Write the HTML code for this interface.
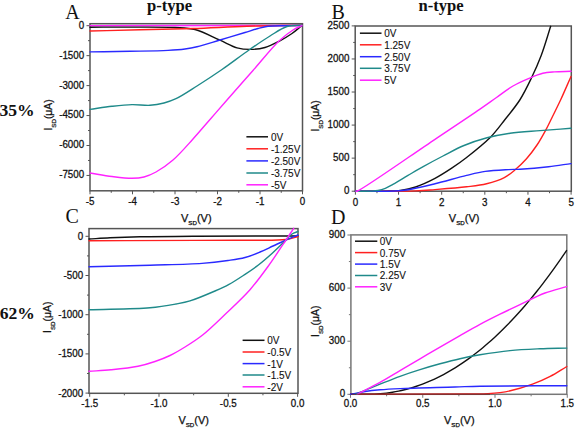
<!DOCTYPE html>
<html><head><meta charset="utf-8"><style>
html,body{margin:0;padding:0;background:#fff;width:575px;height:429px;overflow:hidden}
svg{display:block}
text{font-family:"Liberation Sans",sans-serif;fill:#111}
.tk,.al{stroke:#111;stroke-width:0.25px}
.lg{stroke:#111;stroke-width:0.1px}
.tk{font-size:9.8px}
.lg{font-size:10px}
.al{font-size:11px}
.sub{font-size:6.2px}
.yl{font-size:10.4px}
.pl{font-family:"Liberation Serif",serif;font-size:20px}
.tt{font-family:"Liberation Serif",serif;font-size:16.6px;font-weight:bold}
.pc{font-family:"Liberation Serif",serif;font-size:17.6px;font-weight:bold}
</style></head><body>
<svg width="575" height="429" viewBox="0 0 575 429">
<rect width="575" height="429" fill="#fff"/>
<rect x="90" y="23.7" width="212.5" height="167.10000000000002" fill="none" stroke="#555555" stroke-width="1.5"/>
<line x1="86.5" y1="25.70" x2="90" y2="25.70" stroke="#555555" stroke-width="1"/>
<line x1="86.5" y1="55.65" x2="90" y2="55.65" stroke="#555555" stroke-width="1"/>
<line x1="86.5" y1="85.60" x2="90" y2="85.60" stroke="#555555" stroke-width="1"/>
<line x1="86.5" y1="115.55" x2="90" y2="115.55" stroke="#555555" stroke-width="1"/>
<line x1="86.5" y1="145.50" x2="90" y2="145.50" stroke="#555555" stroke-width="1"/>
<line x1="86.5" y1="175.45" x2="90" y2="175.45" stroke="#555555" stroke-width="1"/>
<line x1="88" y1="40.67" x2="90" y2="40.67" stroke="#555555" stroke-width="1"/>
<line x1="88" y1="70.62" x2="90" y2="70.62" stroke="#555555" stroke-width="1"/>
<line x1="88" y1="100.58" x2="90" y2="100.58" stroke="#555555" stroke-width="1"/>
<line x1="88" y1="130.53" x2="90" y2="130.53" stroke="#555555" stroke-width="1"/>
<line x1="88" y1="160.47" x2="90" y2="160.47" stroke="#555555" stroke-width="1"/>
<line x1="90.00" y1="190.8" x2="90.00" y2="194.3" stroke="#555555" stroke-width="1"/>
<line x1="132.50" y1="190.8" x2="132.50" y2="194.3" stroke="#555555" stroke-width="1"/>
<line x1="175.00" y1="190.8" x2="175.00" y2="194.3" stroke="#555555" stroke-width="1"/>
<line x1="217.50" y1="190.8" x2="217.50" y2="194.3" stroke="#555555" stroke-width="1"/>
<line x1="260.00" y1="190.8" x2="260.00" y2="194.3" stroke="#555555" stroke-width="1"/>
<line x1="302.50" y1="190.8" x2="302.50" y2="194.3" stroke="#555555" stroke-width="1"/>
<line x1="111.25" y1="190.8" x2="111.25" y2="192.8" stroke="#555555" stroke-width="1"/>
<line x1="153.75" y1="190.8" x2="153.75" y2="192.8" stroke="#555555" stroke-width="1"/>
<line x1="196.25" y1="190.8" x2="196.25" y2="192.8" stroke="#555555" stroke-width="1"/>
<line x1="238.75" y1="190.8" x2="238.75" y2="192.8" stroke="#555555" stroke-width="1"/>
<line x1="281.25" y1="190.8" x2="281.25" y2="192.8" stroke="#555555" stroke-width="1"/>
<text class="tk" transform="translate(84.20,28.60) scale(1,1.12)" text-anchor="end">0</text>
<text class="tk" transform="translate(84.20,58.55) scale(1,1.12)" text-anchor="end">-1500</text>
<text class="tk" transform="translate(84.20,88.50) scale(1,1.12)" text-anchor="end">-3000</text>
<text class="tk" transform="translate(84.20,118.45) scale(1,1.12)" text-anchor="end">-4500</text>
<text class="tk" transform="translate(84.20,148.40) scale(1,1.12)" text-anchor="end">-6000</text>
<text class="tk" transform="translate(84.20,178.35) scale(1,1.12)" text-anchor="end">-7500</text>
<text class="tk" transform="translate(90.00,204.80) scale(1,1.12)" text-anchor="middle">-5</text>
<text class="tk" transform="translate(132.50,204.80) scale(1,1.12)" text-anchor="middle">-4</text>
<text class="tk" transform="translate(175.00,204.80) scale(1,1.12)" text-anchor="middle">-3</text>
<text class="tk" transform="translate(217.50,204.80) scale(1,1.12)" text-anchor="middle">-2</text>
<text class="tk" transform="translate(260.00,204.80) scale(1,1.12)" text-anchor="middle">-1</text>
<text class="tk" transform="translate(302.50,204.80) scale(1,1.12)" text-anchor="middle">0</text>
<path d="M90.00,25.70 L302.00,25.50" fill="none" stroke="#ff22ff" stroke-width="1.4" stroke-linejoin="round" stroke-linecap="round"/>
<path d="M90.00,27.20 C103.33,27.17 116.27,27.06 130.00,27.10 C144.56,27.15 163.01,26.85 175.00,27.50 C183.01,27.94 188.10,27.72 195.00,29.50 C203.02,31.57 212.48,36.91 220.00,40.20 C226.22,42.92 231.54,46.30 237.00,47.80 C241.68,49.09 246.00,49.43 250.60,49.40 C255.33,49.37 260.33,48.81 265.00,47.50 C269.80,46.15 274.49,43.64 279.00,41.30 C283.49,38.97 288.03,36.26 292.00,33.50 C295.64,30.97 298.67,28.17 302.00,25.50" fill="none" stroke="#111111" stroke-width="1.4" stroke-linejoin="round" stroke-linecap="round"/>
<path d="M90.00,31.00 C106.67,30.60 123.09,30.21 140.00,29.80 C157.41,29.38 175.25,29.08 193.00,28.50 C210.92,27.92 228.91,26.85 247.00,26.30 C265.25,25.75 283.67,25.57 302.00,25.20" fill="none" stroke="#ff2020" stroke-width="1.4" stroke-linejoin="round" stroke-linecap="round"/>
<path d="M90.00,51.90 C103.33,51.70 116.84,51.55 130.00,51.30 C142.83,51.05 157.85,50.94 168.00,50.40 C174.80,50.04 179.84,49.68 185.00,49.00 C189.36,48.42 192.39,47.90 197.00,46.80 C203.47,45.26 212.18,42.33 220.00,40.00 C228.16,37.57 238.02,34.62 245.00,32.50 C250.04,30.97 253.93,29.57 258.00,28.50 C261.53,27.57 264.20,26.78 268.00,26.30 C272.90,25.68 279.33,25.83 285.00,25.70 C290.67,25.57 296.33,25.57 302.00,25.50" fill="none" stroke="#2a2aff" stroke-width="1.4" stroke-linejoin="round" stroke-linecap="round"/>
<path d="M90.00,109.40 C97.33,108.37 104.83,107.11 112.00,106.30 C118.81,105.53 125.50,104.75 132.00,104.60 C138.15,104.46 144.39,105.65 150.00,105.30 C154.98,104.99 159.56,104.15 164.00,103.00 C168.21,101.91 171.56,100.81 176.00,98.70 C182.16,95.77 189.74,90.59 197.00,86.00 C205.02,80.93 213.57,75.32 222.00,69.50 C230.89,63.36 240.51,55.89 249.00,50.00 C256.39,44.87 263.29,40.10 270.00,36.00 C275.89,32.40 281.32,28.24 287.00,26.50 C291.99,24.97 297.00,25.63 302.00,25.20" fill="none" stroke="#1f8a8a" stroke-width="1.4" stroke-linejoin="round" stroke-linecap="round"/>
<path d="M90.00,173.00 C97.33,174.17 104.83,175.61 112.00,176.50 C118.81,177.35 126.18,178.35 132.00,178.30 C136.51,178.26 140.07,178.01 144.00,177.00 C148.08,175.95 151.79,174.33 156.00,172.00 C161.33,169.06 167.34,164.88 173.00,160.00 C179.68,154.23 186.68,145.94 193.00,139.00 C198.97,132.45 204.33,126.00 210.00,119.50 C215.67,113.00 220.72,107.16 227.00,100.00 C234.74,91.17 244.33,80.33 253.00,70.50 C261.67,60.67 271.37,48.21 279.00,41.00 C284.14,36.15 288.71,32.66 293.00,30.00 C296.21,28.01 299.00,27.13 302.00,25.70" fill="none" stroke="#ff22ff" stroke-width="1.4" stroke-linejoin="round" stroke-linecap="round"/>
<line x1="246.4" y1="136.8" x2="268" y2="136.8" stroke="#111111" stroke-width="1.5"/>
<text class="lg" transform="translate(270.9,140.70) scale(1,1.1)">0V</text>
<line x1="246.4" y1="148.8" x2="268" y2="148.8" stroke="#ff2020" stroke-width="1.5"/>
<text class="lg" transform="translate(270.9,152.70) scale(1,1.1)">-1.25V</text>
<line x1="246.4" y1="160.9" x2="268" y2="160.9" stroke="#2a2aff" stroke-width="1.5"/>
<text class="lg" transform="translate(270.9,164.80) scale(1,1.1)">-2.50V</text>
<line x1="246.4" y1="173" x2="268" y2="173" stroke="#1f8a8a" stroke-width="1.5"/>
<text class="lg" transform="translate(270.9,176.90) scale(1,1.1)">-3.75V</text>
<line x1="246.4" y1="184.8" x2="268" y2="184.8" stroke="#ff22ff" stroke-width="1.5"/>
<text class="lg" transform="translate(270.9,188.70) scale(1,1.1)">-5V</text>
<rect x="355.2" y="26" width="216.09999999999997" height="165.2" fill="none" stroke="#555555" stroke-width="1.5"/>
<line x1="351.7" y1="191.20" x2="355.2" y2="191.20" stroke="#555555" stroke-width="1"/>
<line x1="351.7" y1="158.14" x2="355.2" y2="158.14" stroke="#555555" stroke-width="1"/>
<line x1="351.7" y1="125.08" x2="355.2" y2="125.08" stroke="#555555" stroke-width="1"/>
<line x1="351.7" y1="92.02" x2="355.2" y2="92.02" stroke="#555555" stroke-width="1"/>
<line x1="351.7" y1="58.96" x2="355.2" y2="58.96" stroke="#555555" stroke-width="1"/>
<line x1="351.7" y1="25.90" x2="355.2" y2="25.90" stroke="#555555" stroke-width="1"/>
<line x1="353.2" y1="174.67" x2="355.2" y2="174.67" stroke="#555555" stroke-width="1"/>
<line x1="353.2" y1="141.61" x2="355.2" y2="141.61" stroke="#555555" stroke-width="1"/>
<line x1="353.2" y1="108.55" x2="355.2" y2="108.55" stroke="#555555" stroke-width="1"/>
<line x1="353.2" y1="75.49" x2="355.2" y2="75.49" stroke="#555555" stroke-width="1"/>
<line x1="353.2" y1="42.43" x2="355.2" y2="42.43" stroke="#555555" stroke-width="1"/>
<line x1="355.40" y1="191.2" x2="355.40" y2="194.7" stroke="#555555" stroke-width="1"/>
<line x1="398.54" y1="191.2" x2="398.54" y2="194.7" stroke="#555555" stroke-width="1"/>
<line x1="441.68" y1="191.2" x2="441.68" y2="194.7" stroke="#555555" stroke-width="1"/>
<line x1="484.82" y1="191.2" x2="484.82" y2="194.7" stroke="#555555" stroke-width="1"/>
<line x1="527.96" y1="191.2" x2="527.96" y2="194.7" stroke="#555555" stroke-width="1"/>
<line x1="571.10" y1="191.2" x2="571.10" y2="194.7" stroke="#555555" stroke-width="1"/>
<line x1="376.97" y1="191.2" x2="376.97" y2="193.2" stroke="#555555" stroke-width="1"/>
<line x1="420.11" y1="191.2" x2="420.11" y2="193.2" stroke="#555555" stroke-width="1"/>
<line x1="463.25" y1="191.2" x2="463.25" y2="193.2" stroke="#555555" stroke-width="1"/>
<line x1="506.39" y1="191.2" x2="506.39" y2="193.2" stroke="#555555" stroke-width="1"/>
<line x1="549.53" y1="191.2" x2="549.53" y2="193.2" stroke="#555555" stroke-width="1"/>
<text class="tk" transform="translate(349.40,194.10) scale(1,1.12)" text-anchor="end">0</text>
<text class="tk" transform="translate(349.40,161.04) scale(1,1.12)" text-anchor="end">500</text>
<text class="tk" transform="translate(349.40,127.98) scale(1,1.12)" text-anchor="end">1000</text>
<text class="tk" transform="translate(349.40,94.92) scale(1,1.12)" text-anchor="end">1500</text>
<text class="tk" transform="translate(349.40,61.86) scale(1,1.12)" text-anchor="end">2000</text>
<text class="tk" transform="translate(349.40,28.80) scale(1,1.12)" text-anchor="end">2500</text>
<text class="tk" transform="translate(355.40,205.50) scale(1,1.12)" text-anchor="middle">0</text>
<text class="tk" transform="translate(398.54,205.50) scale(1,1.12)" text-anchor="middle">1</text>
<text class="tk" transform="translate(441.68,205.50) scale(1,1.12)" text-anchor="middle">2</text>
<text class="tk" transform="translate(484.82,205.50) scale(1,1.12)" text-anchor="middle">3</text>
<text class="tk" transform="translate(527.96,205.50) scale(1,1.12)" text-anchor="middle">4</text>
<text class="tk" transform="translate(571.10,205.50) scale(1,1.12)" text-anchor="middle">5</text>
<path d="M355.40,191.20 C365.27,191.17 376.72,191.30 385.00,191.10 C391.00,190.95 395.40,191.08 400.50,190.40 C405.60,189.72 410.34,188.74 415.60,187.00 C421.76,184.96 428.88,181.61 435.00,178.40 C440.88,175.32 446.36,171.74 451.70,168.20 C456.87,164.77 461.17,161.73 466.60,157.50 C473.60,152.04 483.23,144.55 489.90,137.80 C495.78,131.85 500.05,125.75 505.00,119.50 C510.02,113.15 515.43,106.84 519.80,100.00 C524.16,93.18 527.66,85.86 531.20,78.50 C534.80,71.03 538.09,63.70 541.20,55.50 C544.64,46.42 547.53,36.03 550.70,26.30" fill="none" stroke="#111111" stroke-width="1.4" stroke-linejoin="round" stroke-linecap="round"/>
<path d="M355.40,191.20 C375.47,191.10 401.07,191.42 415.60,190.90 C423.86,190.60 427.75,190.16 435.00,189.60 C444.26,188.88 457.28,187.91 466.60,186.80 C474.04,185.91 480.21,185.38 486.60,183.80 C492.76,182.27 499.38,180.14 504.30,177.60 C508.28,175.54 510.91,173.32 514.30,170.50 C518.29,167.19 522.73,162.93 526.50,158.70 C530.30,154.43 533.74,149.87 537.00,145.00 C540.39,139.93 543.91,133.42 546.40,128.80 C548.20,125.45 549.05,123.55 550.80,120.00 C553.47,114.60 557.51,106.56 560.80,99.50 C564.25,92.08 567.60,84.17 571.00,76.50" fill="none" stroke="#ff2020" stroke-width="1.4" stroke-linejoin="round" stroke-linecap="round"/>
<path d="M355.40,191.20 C368.60,191.13 385.39,191.47 395.00,191.00 C400.52,190.73 402.91,190.60 408.00,189.80 C415.40,188.64 425.67,186.08 435.00,183.80 C445.14,181.33 457.42,177.60 466.60,175.40 C473.62,173.72 478.69,172.36 485.30,171.40 C492.61,170.34 502.20,169.96 508.60,169.60 C513.07,169.35 515.35,169.48 520.00,169.20 C527.38,168.75 539.66,167.71 548.60,166.70 C556.53,165.80 563.53,164.63 571.00,163.60" fill="none" stroke="#2a2aff" stroke-width="1.4" stroke-linejoin="round" stroke-linecap="round"/>
<path d="M355.40,191.20 C360.93,191.17 367.85,191.32 372.00,191.10 C374.50,190.97 375.92,190.91 378.00,190.50 C380.34,190.04 382.89,189.29 385.30,188.30 C387.86,187.25 389.96,185.94 392.90,184.30 C397.10,181.96 402.95,178.35 408.00,175.40 C413.05,172.45 417.77,169.62 423.20,166.60 C429.34,163.18 436.28,159.48 443.00,156.00 C449.87,152.44 456.73,148.52 464.00,145.50 C471.39,142.43 479.27,139.86 487.00,137.80 C494.60,135.78 501.79,134.37 510.00,133.20 C519.30,131.87 529.92,131.41 540.00,130.60 C550.25,129.78 560.67,129.07 571.00,128.30" fill="none" stroke="#1f8a8a" stroke-width="1.4" stroke-linejoin="round" stroke-linecap="round"/>
<path d="M356.00,191.20 C356.50,191.13 356.68,191.31 357.50,191.00 C363.90,188.59 412.67,154.24 435.00,139.30 C452.04,127.90 468.72,116.85 480.00,109.10 C486.88,104.37 491.00,101.35 496.50,97.50 C502.00,93.65 507.35,89.28 513.00,86.00 C518.40,82.86 524.33,80.30 529.60,78.10 C534.20,76.17 538.48,74.33 542.80,73.30 C546.74,72.36 550.18,72.23 554.40,71.90 C559.43,71.51 565.47,71.50 571.00,71.30" fill="none" stroke="#ff22ff" stroke-width="1.4" stroke-linejoin="round" stroke-linecap="round"/>
<line x1="359.9" y1="33.2" x2="381.5" y2="33.2" stroke="#111111" stroke-width="1.5"/>
<text class="lg" transform="translate(384.2,37.10) scale(1,1.1)">0V</text>
<line x1="359.9" y1="44.8" x2="381.5" y2="44.8" stroke="#ff2020" stroke-width="1.5"/>
<text class="lg" transform="translate(384.2,48.70) scale(1,1.1)">1.25V</text>
<line x1="359.9" y1="56.7" x2="381.5" y2="56.7" stroke="#2a2aff" stroke-width="1.5"/>
<text class="lg" transform="translate(384.2,60.60) scale(1,1.1)">2.50V</text>
<line x1="359.9" y1="68.3" x2="381.5" y2="68.3" stroke="#1f8a8a" stroke-width="1.5"/>
<text class="lg" transform="translate(384.2,72.20) scale(1,1.1)">3.75V</text>
<line x1="359.9" y1="80.2" x2="381.5" y2="80.2" stroke="#ff22ff" stroke-width="1.5"/>
<text class="lg" transform="translate(384.2,84.10) scale(1,1.1)">5V</text>
<rect x="89" y="228.6" width="209" height="164.70000000000002" fill="none" stroke="#555555" stroke-width="1.5"/>
<line x1="85.5" y1="236.30" x2="89" y2="236.30" stroke="#555555" stroke-width="1"/>
<line x1="85.5" y1="275.50" x2="89" y2="275.50" stroke="#555555" stroke-width="1"/>
<line x1="85.5" y1="314.70" x2="89" y2="314.70" stroke="#555555" stroke-width="1"/>
<line x1="85.5" y1="353.90" x2="89" y2="353.90" stroke="#555555" stroke-width="1"/>
<line x1="85.5" y1="393.10" x2="89" y2="393.10" stroke="#555555" stroke-width="1"/>
<line x1="87" y1="255.90" x2="89" y2="255.90" stroke="#555555" stroke-width="1"/>
<line x1="87" y1="295.10" x2="89" y2="295.10" stroke="#555555" stroke-width="1"/>
<line x1="87" y1="334.30" x2="89" y2="334.30" stroke="#555555" stroke-width="1"/>
<line x1="87" y1="373.50" x2="89" y2="373.50" stroke="#555555" stroke-width="1"/>
<line x1="89.70" y1="393.3" x2="89.70" y2="396.8" stroke="#555555" stroke-width="1"/>
<line x1="159.00" y1="393.3" x2="159.00" y2="396.8" stroke="#555555" stroke-width="1"/>
<line x1="228.30" y1="393.3" x2="228.30" y2="396.8" stroke="#555555" stroke-width="1"/>
<line x1="297.60" y1="393.3" x2="297.60" y2="396.8" stroke="#555555" stroke-width="1"/>
<line x1="124.35" y1="393.3" x2="124.35" y2="395.3" stroke="#555555" stroke-width="1"/>
<line x1="193.65" y1="393.3" x2="193.65" y2="395.3" stroke="#555555" stroke-width="1"/>
<line x1="262.95" y1="393.3" x2="262.95" y2="395.3" stroke="#555555" stroke-width="1"/>
<text class="tk" transform="translate(83.20,239.80) scale(1,1.12)" text-anchor="end">0</text>
<text class="tk" transform="translate(83.20,279.00) scale(1,1.12)" text-anchor="end">-500</text>
<text class="tk" transform="translate(83.20,318.20) scale(1,1.12)" text-anchor="end">-1000</text>
<text class="tk" transform="translate(83.20,357.40) scale(1,1.12)" text-anchor="end">-1500</text>
<text class="tk" transform="translate(83.20,396.60) scale(1,1.12)" text-anchor="end">-2000</text>
<text class="tk" transform="translate(89.70,406.90) scale(1,1.12)" text-anchor="middle">-1.5</text>
<text class="tk" transform="translate(159.00,406.90) scale(1,1.12)" text-anchor="middle">-1.0</text>
<text class="tk" transform="translate(228.30,406.90) scale(1,1.12)" text-anchor="middle">-0.5</text>
<text class="tk" transform="translate(297.60,406.90) scale(1,1.12)" text-anchor="middle">0.0</text>
<path d="M89.00,239.00 C96.00,238.60 102.38,238.14 110.00,237.80 C119.11,237.39 128.45,237.05 140.00,236.80 C155.78,236.45 174.56,236.34 196.00,236.20 C224.94,236.02 264.00,236.07 298.00,236.00" fill="none" stroke="#111111" stroke-width="1.4" stroke-linejoin="round" stroke-linecap="round"/>
<path d="M89.00,240.80 C124.67,240.67 167.21,240.51 196.00,240.40 C215.48,240.32 229.39,240.37 245.00,240.20 C259.28,240.05 276.45,240.76 286.00,239.50 C291.24,238.81 294.00,237.50 298.00,236.50" fill="none" stroke="#ff2020" stroke-width="1.4" stroke-linejoin="round" stroke-linecap="round"/>
<path d="M89.00,266.80 C109.33,266.27 130.48,265.79 150.00,265.20 C168.03,264.65 187.66,264.45 202.00,263.40 C212.17,262.66 220.27,261.61 228.00,260.50 C234.28,259.60 239.57,258.96 245.00,257.50 C250.22,256.09 255.22,253.98 260.00,252.00 C264.53,250.13 268.67,248.00 273.00,246.00 C277.33,244.00 281.74,241.87 286.00,240.00 C290.06,238.22 294.00,236.67 298.00,235.00" fill="none" stroke="#2a2aff" stroke-width="1.4" stroke-linejoin="round" stroke-linecap="round"/>
<path d="M89.00,309.80 C109.33,309.13 133.97,309.23 150.00,307.80 C160.52,306.86 168.68,305.34 176.00,304.00 C181.40,303.01 184.73,302.51 190.00,300.90 C197.21,298.69 207.91,294.07 215.00,291.00 C220.38,288.67 224.33,286.95 229.00,284.40 C234.00,281.67 239.09,278.24 244.00,275.00 C248.89,271.77 253.75,268.57 258.40,265.00 C263.09,261.40 267.50,257.56 272.00,253.50 C276.70,249.25 282.32,243.61 286.00,240.00 C288.43,237.61 289.85,235.44 292.00,234.00 C293.88,232.74 296.00,232.33 298.00,231.50" fill="none" stroke="#1f8a8a" stroke-width="1.4" stroke-linejoin="round" stroke-linecap="round"/>
<path d="M89.00,371.30 C96.33,370.80 103.30,370.56 111.00,369.80 C119.55,368.95 130.09,367.92 138.00,366.30 C144.37,364.99 149.56,363.35 155.00,361.50 C160.20,359.73 165.08,357.87 170.00,355.50 C175.08,353.06 179.87,350.20 185.00,347.00 C190.70,343.45 196.50,339.84 202.60,335.00 C210.05,329.09 218.22,320.93 226.00,313.50 C234.02,305.84 242.81,297.82 250.00,289.70 C256.70,282.13 262.13,274.59 268.00,266.50 C274.14,258.05 281.28,247.07 286.00,240.00 C289.12,235.33 291.13,232.20 293.70,228.30" fill="none" stroke="#ff22ff" stroke-width="1.4" stroke-linejoin="round" stroke-linecap="round"/>
<line x1="242.6" y1="340.3" x2="264.5" y2="340.3" stroke="#111111" stroke-width="1.5"/>
<text class="lg" transform="translate(267.3,344.20) scale(1,1.1)">0V</text>
<line x1="242.6" y1="352" x2="264.5" y2="352" stroke="#ff2020" stroke-width="1.5"/>
<text class="lg" transform="translate(267.3,355.90) scale(1,1.1)">-0.5V</text>
<line x1="242.6" y1="363.6" x2="264.5" y2="363.6" stroke="#2a2aff" stroke-width="1.5"/>
<text class="lg" transform="translate(267.3,367.50) scale(1,1.1)">-1V</text>
<line x1="242.6" y1="375" x2="264.5" y2="375" stroke="#1f8a8a" stroke-width="1.5"/>
<text class="lg" transform="translate(267.3,378.90) scale(1,1.1)">-1.5V</text>
<line x1="242.6" y1="386.8" x2="264.5" y2="386.8" stroke="#ff22ff" stroke-width="1.5"/>
<text class="lg" transform="translate(267.3,390.70) scale(1,1.1)">-2V</text>
<rect x="350.9" y="234.9" width="215.89999999999998" height="159.4" fill="none" stroke="#777777" stroke-width="1.5"/>
<line x1="347.4" y1="394.30" x2="350.9" y2="394.30" stroke="#777777" stroke-width="1"/>
<line x1="347.4" y1="341.20" x2="350.9" y2="341.20" stroke="#777777" stroke-width="1"/>
<line x1="347.4" y1="288.10" x2="350.9" y2="288.10" stroke="#777777" stroke-width="1"/>
<line x1="347.4" y1="235.00" x2="350.9" y2="235.00" stroke="#777777" stroke-width="1"/>
<line x1="348.9" y1="367.75" x2="350.9" y2="367.75" stroke="#777777" stroke-width="1"/>
<line x1="348.9" y1="314.65" x2="350.9" y2="314.65" stroke="#777777" stroke-width="1"/>
<line x1="348.9" y1="261.55" x2="350.9" y2="261.55" stroke="#777777" stroke-width="1"/>
<line x1="350.50" y1="394.3" x2="350.50" y2="397.8" stroke="#777777" stroke-width="1"/>
<line x1="422.75" y1="394.3" x2="422.75" y2="397.8" stroke="#777777" stroke-width="1"/>
<line x1="495.00" y1="394.3" x2="495.00" y2="397.8" stroke="#777777" stroke-width="1"/>
<line x1="567.25" y1="394.3" x2="567.25" y2="397.8" stroke="#777777" stroke-width="1"/>
<line x1="386.62" y1="394.3" x2="386.62" y2="396.3" stroke="#777777" stroke-width="1"/>
<line x1="458.88" y1="394.3" x2="458.88" y2="396.3" stroke="#777777" stroke-width="1"/>
<line x1="531.12" y1="394.3" x2="531.12" y2="396.3" stroke="#777777" stroke-width="1"/>
<text class="tk" transform="translate(345.10,397.20) scale(1,1.12)" text-anchor="end">0</text>
<text class="tk" transform="translate(345.10,344.10) scale(1,1.12)" text-anchor="end">300</text>
<text class="tk" transform="translate(345.10,291.00) scale(1,1.12)" text-anchor="end">600</text>
<text class="tk" transform="translate(345.10,237.90) scale(1,1.12)" text-anchor="end">900</text>
<text class="tk" transform="translate(350.50,407.10) scale(1,1.12)" text-anchor="middle">0.0</text>
<text class="tk" transform="translate(422.75,407.10) scale(1,1.12)" text-anchor="middle">0.5</text>
<text class="tk" transform="translate(495.00,407.10) scale(1,1.12)" text-anchor="middle">1.0</text>
<text class="tk" transform="translate(567.25,407.10) scale(1,1.12)" text-anchor="middle">1.5</text>
<path d="M350.50,394.30 C352.50,394.30 354.50,394.30 356.50,394.30 C358.50,394.30 360.50,394.30 362.50,394.30 C364.50,394.30 366.50,394.32 368.50,394.29 C370.50,394.27 372.50,394.23 374.50,394.14 C376.50,394.05 378.50,393.92 380.50,393.75 C382.50,393.58 384.50,393.38 386.50,393.13 C388.50,392.88 390.50,392.59 392.50,392.26 C394.50,391.93 396.50,391.56 398.50,391.15 C400.50,390.73 402.50,390.27 404.50,389.78 C406.51,389.28 408.51,388.73 410.50,388.15 C412.51,387.56 414.51,386.94 416.50,386.27 C418.51,385.59 420.51,384.88 422.50,384.12 C424.51,383.36 426.51,382.56 428.50,381.71 C430.51,380.86 432.51,379.97 434.50,379.04 C436.51,378.10 438.51,377.12 440.50,376.10 C442.51,375.07 444.51,374.00 446.50,372.89 C448.51,371.77 450.51,370.61 452.50,369.41 C454.51,368.20 456.51,366.95 458.50,365.66 C460.51,364.36 462.51,363.02 464.50,361.64 C466.51,360.25 468.51,358.81 470.50,357.35 C472.51,355.86 474.51,354.33 476.50,352.77 C478.51,351.20 480.51,349.58 482.50,347.93 C484.51,346.26 486.51,344.55 488.50,342.80 C490.51,341.04 492.51,339.23 494.50,337.40 C496.51,335.54 498.51,333.65 500.50,331.72 C502.51,329.76 504.51,327.78 506.50,325.75 C508.51,323.71 510.51,321.63 512.50,319.51 C514.51,317.37 516.51,315.20 518.50,312.99 C520.51,310.75 522.51,308.48 524.50,306.18 C526.51,303.85 528.51,301.49 530.50,299.09 C532.51,296.66 534.51,294.21 536.50,291.71 C538.51,289.19 540.51,286.64 542.50,284.06 C544.51,281.44 546.51,278.79 548.50,276.11 C550.51,273.40 552.51,270.65 554.50,267.88 C556.51,265.07 558.51,262.23 560.50,259.36 C562.51,256.46 564.50,253.49 566.50,250.56" fill="none" stroke="#111111" stroke-width="1.4" stroke-linejoin="round" stroke-linecap="round"/>
<path d="M350.50,394.30 C390.33,394.20 447.73,394.21 470.00,394.00 C478.65,393.92 481.69,394.16 488.00,393.70 C495.05,393.18 502.94,392.36 510.30,390.80 C517.77,389.21 525.59,386.74 532.50,384.20 C538.81,381.88 544.48,379.35 550.20,376.40 C555.92,373.45 561.27,369.80 566.80,366.50" fill="none" stroke="#ff2020" stroke-width="1.4" stroke-linejoin="round" stroke-linecap="round"/>
<path d="M350.50,394.30 C355.33,393.37 360.11,392.25 365.00,391.50 C369.94,390.74 374.63,390.26 380.00,389.80 C386.18,389.26 391.68,388.97 400.00,388.60 C413.79,387.99 440.23,387.45 455.00,387.00 C464.96,386.70 469.15,386.40 480.00,386.20 C500.21,385.82 537.87,385.87 566.80,385.70" fill="none" stroke="#2a2aff" stroke-width="1.4" stroke-linejoin="round" stroke-linecap="round"/>
<path d="M355.50,394.30 C363.67,390.93 372.24,387.33 380.00,384.20 C386.99,381.38 393.30,378.74 400.00,376.30 C406.63,373.88 413.31,371.69 420.00,369.60 C426.65,367.52 433.32,365.62 440.00,363.80 C446.65,361.99 453.31,360.20 460.00,358.70 C466.65,357.21 472.64,356.03 480.00,354.80 C488.97,353.30 499.98,351.60 510.00,350.60 C519.98,349.60 530.28,349.22 540.00,348.80 C549.18,348.40 557.87,348.33 566.80,348.10" fill="none" stroke="#1f8a8a" stroke-width="1.4" stroke-linejoin="round" stroke-linecap="round"/>
<path d="M357.00,394.30 C364.67,390.33 372.66,386.46 380.00,382.40 C386.96,378.55 393.33,374.53 400.00,370.60 C406.67,366.67 413.33,362.72 420.00,358.80 C426.66,354.89 433.33,350.97 440.00,347.10 C446.66,343.24 453.32,339.39 460.00,335.60 C466.66,331.82 473.30,327.98 480.00,324.40 C486.63,320.85 493.31,317.51 500.00,314.20 C506.65,310.91 512.95,307.93 520.00,304.60 C527.86,300.89 536.84,296.07 545.00,293.00 C552.41,290.21 559.53,288.73 566.80,286.60" fill="none" stroke="#ff22ff" stroke-width="1.4" stroke-linejoin="round" stroke-linecap="round"/>
<line x1="350.9" y1="394.3" x2="490" y2="394.3" stroke="#333" stroke-width="1.5" stroke-opacity="0.55"/>
<line x1="355" y1="241.2" x2="377.3" y2="241.2" stroke="#111111" stroke-width="1.5"/>
<text class="lg" transform="translate(379.8,245.10) scale(1,1.1)">0V</text>
<line x1="355" y1="252.6" x2="377.3" y2="252.6" stroke="#ff2020" stroke-width="1.5"/>
<text class="lg" transform="translate(379.8,256.50) scale(1,1.1)">0.75V</text>
<line x1="355" y1="264.1" x2="377.3" y2="264.1" stroke="#2a2aff" stroke-width="1.5"/>
<text class="lg" transform="translate(379.8,268.00) scale(1,1.1)">1.5V</text>
<line x1="355" y1="275.5" x2="377.3" y2="275.5" stroke="#1f8a8a" stroke-width="1.5"/>
<text class="lg" transform="translate(379.8,279.40) scale(1,1.1)">2.25V</text>
<line x1="355" y1="286.8" x2="377.3" y2="286.8" stroke="#ff22ff" stroke-width="1.5"/>
<text class="lg" transform="translate(379.8,290.70) scale(1,1.1)">3V</text>
<text class="al yl" transform="translate(51.8,130.6) rotate(-90)" x="0" y="0">I<tspan class="sub" dy="3.9">SD</tspan><tspan dy="-3.9">(μA)</tspan></text>
<text class="al yl" transform="translate(319.2,131.6) rotate(-90)" x="0" y="0">I<tspan class="sub" dy="3.9">SD</tspan><tspan dy="-3.9">(μA)</tspan></text>
<text class="al yl" transform="translate(51.0,333) rotate(-90)" x="0" y="0">I<tspan class="sub" dy="3.9">SD</tspan><tspan dy="-3.9">(μA)</tspan></text>
<text class="al yl" transform="translate(319.2,336.9) rotate(-90)" x="0" y="0">I<tspan class="sub" dy="3.9">SD</tspan><tspan dy="-3.9">(μA)</tspan></text>
<text class="al" x="181" y="222">V<tspan class="sub" dy="3.1">SD</tspan><tspan dy="-3.1">(V)</tspan></text>
<text class="al" x="448.8" y="222">V<tspan class="sub" dy="3.1">SD</tspan><tspan dy="-3.1">(V)</tspan></text>
<text class="al" x="178.4" y="424">V<tspan class="sub" dy="3.1">SD</tspan><tspan dy="-3.1">(V)</tspan></text>
<text class="al" x="444" y="424">V<tspan class="sub" dy="3.1">SD</tspan><tspan dy="-3.1">(V)</tspan></text>
<text class="pl" x="65.3" y="18.5">A</text>
<text class="pl" x="331.5" y="18.5">B</text>
<text class="pl" x="65.5" y="223.2">C</text>
<text class="pl" x="331" y="223.6">D</text>
<text class="tt" x="147" y="11">p-type</text>
<text class="tt" x="418.5" y="10.9">n-type</text>
<text class="pc" x="-0.5" y="115.5">35%</text>
<text class="pc" x="-0.3" y="318.7">62%</text>
</svg>
</body></html>
